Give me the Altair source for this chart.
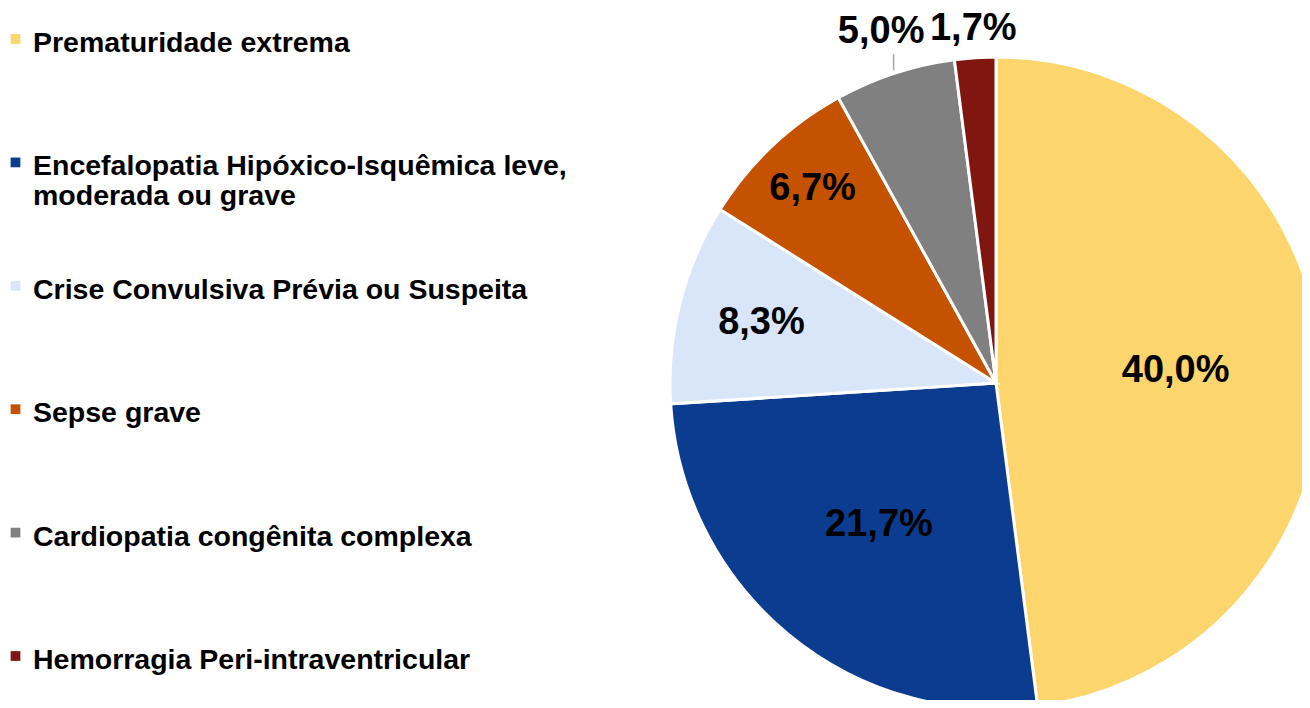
import altair as alt
import pandas as pd

# ---- data ----
categories = [
    "Prematuridade extrema",
    "Encefalopatia Hipóxico-Isquêmica leve, moderada ou grave",
    "Crise Convulsiva Prévia ou Suspeita",
    "Sepse grave",
    "Cardiopatia congênita complexa",
    "Hemorragia Peri-intraventricular",
]
legend_labels = [
    "Prematuridade extrema",
    "Encefalopatia Hipóxico-Isquêmica leve,\nmoderada ou grave",
    "Crise Convulsiva Prévia ou Suspeita",
    "Sepse grave",
    "Cardiopatia congênita complexa",
    "Hemorragia Peri-intraventricular",
]
values = [40.0, 21.7, 8.3, 6.7, 5.0, 1.7]
value_labels = ["40,0%", "21,7%", "8,3%", "6,7%", "5,0%", "1,7%"]
colors = ["#FCD66C", "#0C3C8F", "#D9E6FA", "#C45200", "#808080", "#7F1710"]

df = pd.DataFrame({
    "cat": categories,
    "legend": legend_labels,
    "value": values,
    "label": value_labels,
    "o": list(range(len(categories))),
})

# ---- layout ----
CX, CY, R = 988, 375, 326
FONT = "Liberation Sans"

base = alt.Chart(df)
color = alt.Color("cat:N", scale=alt.Scale(domain=categories, range=colors), legend=None)
theta = alt.Theta("value:Q", stack=True)

arc = base.mark_arc(radius=R, stroke="white", strokeWidth=3).encode(
    theta=theta, color=color, order=alt.Order("o:Q"),
    x=alt.value(CX), y=alt.value(CY),
)


def labels(test, r):
    return base.transform_calculate(
        t=f"({test}) ? datum.label : ''"
    ).mark_text(
        radius=r, fontSize=38, fontWeight="bold", font=FONT, color="black",
        align="center", baseline="middle",
    ).encode(
        theta=theta, detail="cat:N", order=alt.Order("o:Q"), text="t:N",
        x=alt.value(CX), y=alt.value(CY),
    )


lab_big = labels("datum.o == 0", 180)
lab_blue = labels("datum.o == 1", 184)
lab_light = labels("datum.o == 2", 242)
lab_orange = labels("datum.o == 3", 267)
lab_gray = labels("datum.o == 4", 369)
lab_red = labels("datum.o == 5", 355)

leader = base.transform_window(
    cum="sum(value)", sort=[alt.SortField("o")], frame=[None, 0]
).transform_joinaggregate(total="sum(value)").transform_calculate(
    mid="2*PI*(datum.cum - datum.value/2)/datum.total"
).transform_filter("datum.o == 4").transform_calculate(
    lx=f"{CX} + 329*sin(datum.mid)",
    ly=f"{CY} - 329*cos(datum.mid)",
    ly2=f"{CY} - 346*cos(datum.mid)",
).mark_rule(color="#A6A6A6", strokeWidth=1.5).encode(
    x=alt.X("lx:Q", scale=None, axis=None),
    y=alt.Y("ly:Q", scale=None, axis=None),
    y2="ly2:Q",
)

ypos = alt.Y("cat:N", scale=alt.Scale(type="point", domain=categories, range=[31, 648], padding=0), axis=None)

leg_sq = base.mark_square(size=95, filled=True, opacity=1).encode(
    x=alt.value(7.5), y=ypos, color=color,
)
leg_txt = base.mark_text(
    align="left", baseline="alphabetic", dy=13, fontSize=28.5, fontWeight="bold",
    font=FONT, color="black", lineBreak="\n", lineHeight=30,
).encode(x=alt.value(25), y=ypos, text="legend:N")

chart = alt.layer(
    arc, lab_big, lab_blue, lab_light, lab_orange, lab_gray, lab_red, leader, leg_sq, leg_txt
).resolve_scale(x="independent", y="independent").properties(
    width=1294, height=692, padding=0,
    autosize=alt.AutoSizeParams(type="none"),
).configure_view(stroke=None)

chart.save("out.html", embed_options={"renderer": "svg", "actions": False})
